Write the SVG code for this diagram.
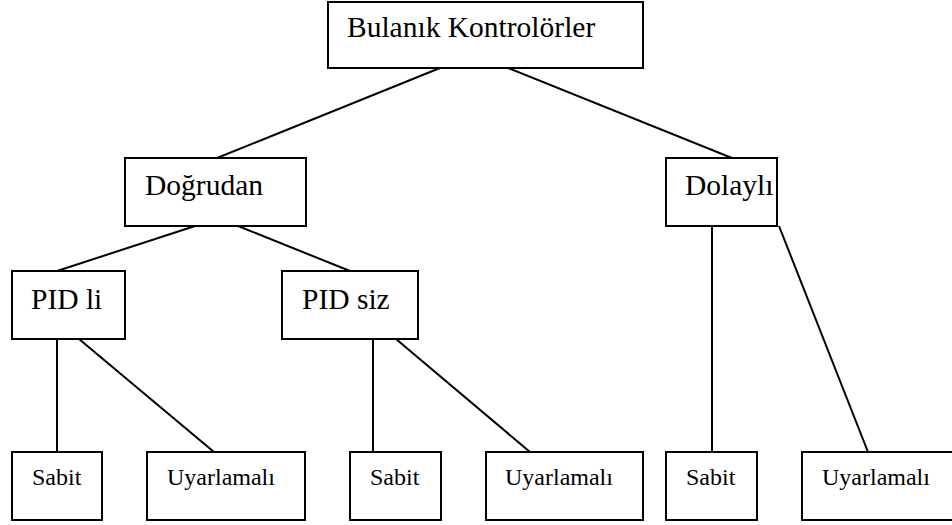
<svg xmlns="http://www.w3.org/2000/svg" width="952" height="525" viewBox="0 0 952 525">
<style>
.box{fill:#fff;stroke:#000;stroke-width:2}
.lg{font-family:"Liberation Serif","Times New Roman",serif;font-size:29.5px;fill:#000}
.sm{font-family:"Liberation Serif","Times New Roman",serif;font-size:24px;fill:#000}
.conn line{stroke:#000;stroke-width:2}
</style>
<rect width="952" height="525" fill="#fff"/>
<g class="conn" id="connectors">
<line x1="440" y1="68" x2="217" y2="158"/>
<line x1="508" y1="68" x2="732" y2="158"/>
<line x1="195" y1="226" x2="57" y2="271"/>
<line x1="238" y1="226" x2="350" y2="271"/>
<line x1="712" y1="226" x2="712" y2="452"/>
<line x1="779" y1="226" x2="868" y2="452"/>
<line x1="57" y1="339" x2="57" y2="452"/>
<line x1="79" y1="339" x2="214" y2="452"/>
<line x1="373" y1="339" x2="373" y2="452"/>
<line x1="396" y1="339" x2="530" y2="452"/>
</g>
<g id="bulanik"><rect class="box" x="328" y="2" width="315" height="66"/><text class="lg" x="347" y="37">Bulanık Kontrolörler</text></g>
<g id="dogrudan"><rect class="box" x="125" y="158" width="181" height="68"/><text class="lg" x="145" y="195">Doğrudan</text></g>
<g id="dolayli"><rect class="box" x="666" y="158" width="111" height="68"/><text class="lg" x="685" y="195">Dolaylı</text></g>
<g id="pidli"><rect class="box" x="12" y="271" width="113" height="68"/><text class="lg" x="31" y="309">PID li</text></g>
<g id="pidsiz"><rect class="box" x="282" y="271" width="136" height="68"/><text class="lg" x="302" y="309">PID siz</text></g>
<g id="sabit1"><rect class="box" x="12" y="452" width="90" height="68"/><text class="sm" x="32" y="485">Sabit</text></g>
<g id="uyar1"><rect class="box" x="147" y="452" width="158" height="68"/><text class="sm" x="167" y="485">Uyarlamalı</text></g>
<g id="sabit2"><rect class="box" x="350" y="452" width="91" height="68"/><text class="sm" x="370" y="485">Sabit</text></g>
<g id="uyar2"><rect class="box" x="486" y="452" width="157" height="68"/><text class="sm" x="505" y="485">Uyarlamalı</text></g>
<g id="sabit3"><rect class="box" x="666" y="452" width="91" height="68"/><text class="sm" x="686" y="485">Sabit</text></g>
<g id="uyar3"><rect class="box" x="802" y="452" width="160" height="68"/><text class="sm" x="822" y="485">Uyarlamalı</text></g>
</svg>
